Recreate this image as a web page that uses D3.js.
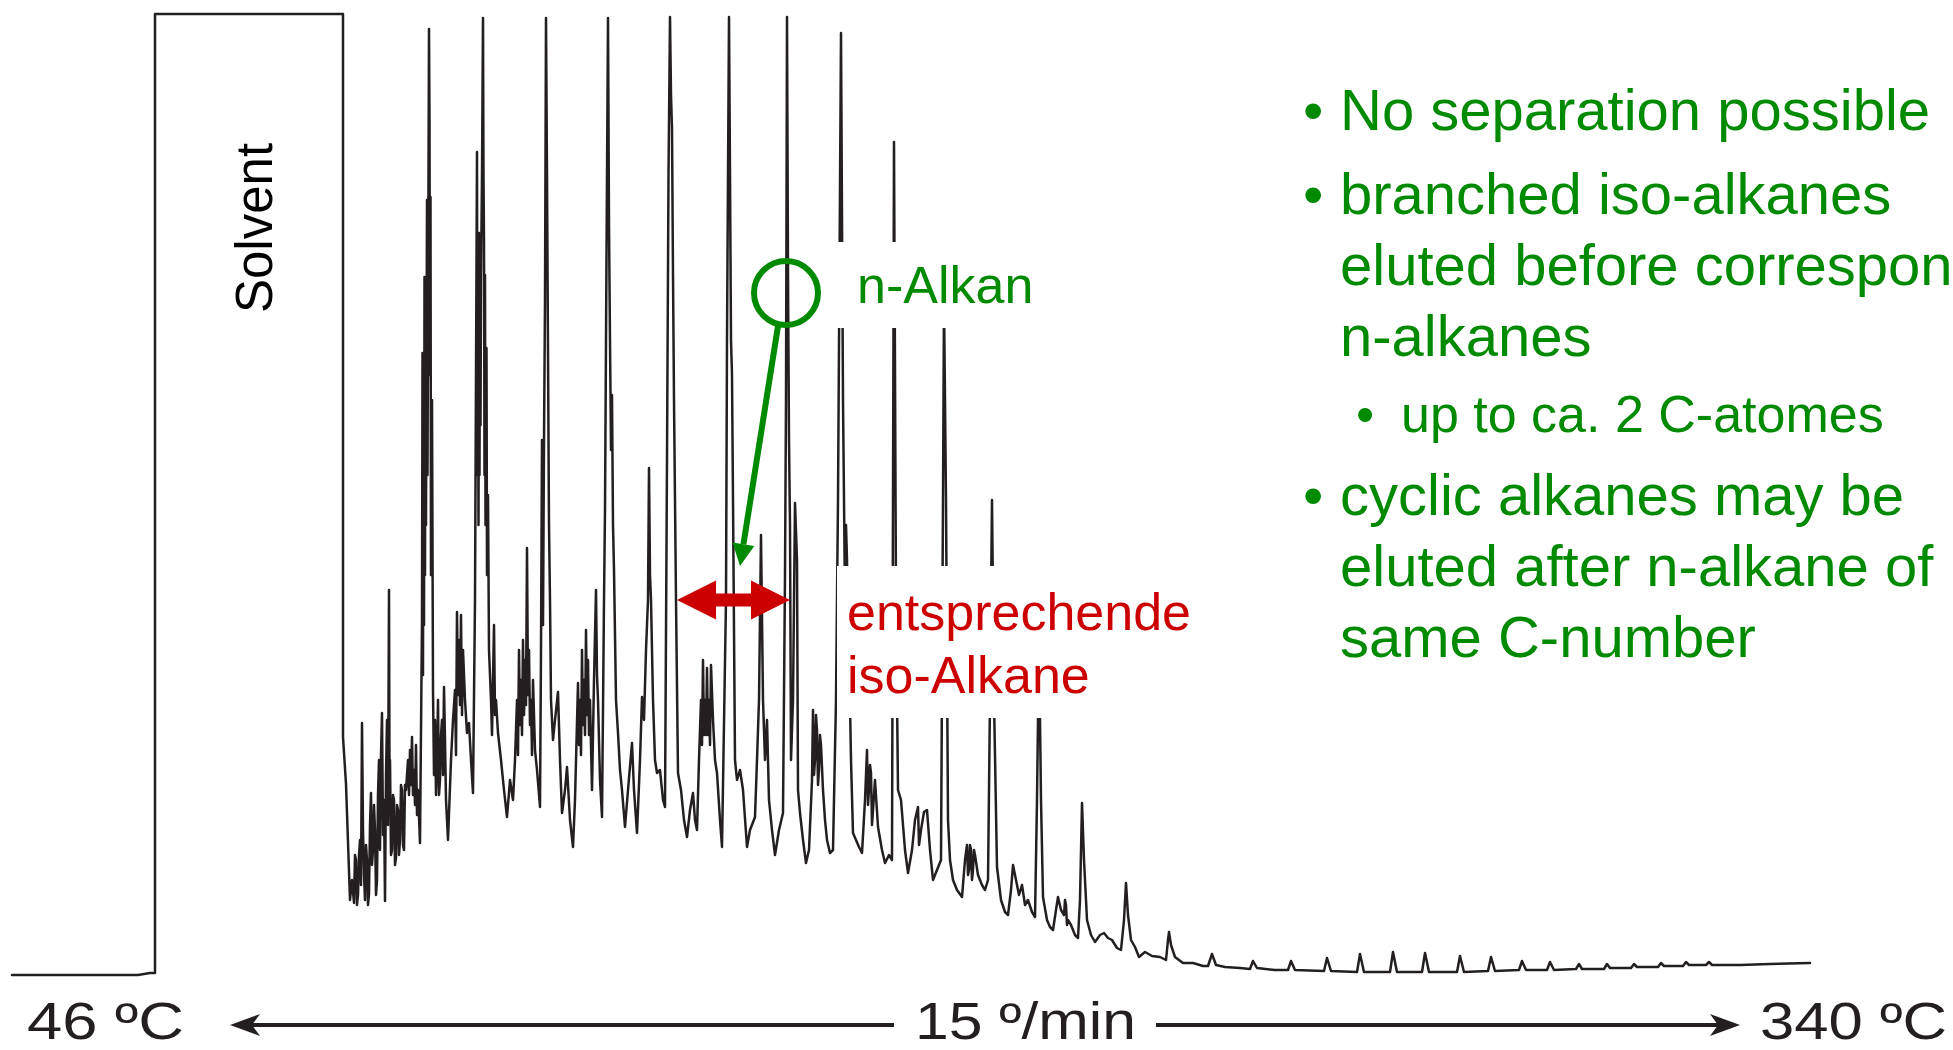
<!DOCTYPE html>
<html><head><meta charset="utf-8">
<script src="https://cdn.jsdelivr.net/npm/d3@7"></script>
<style>
body{margin:0;background:#fff}
svg{display:block}
text{font-family:"Liberation Sans",Arial,Helvetica,sans-serif}
</style>
</head><body>
<svg id="chart" width="1953" height="1050"></svg>
<script>
// ---- data: retention time (min) , detector signal (mV) ----
const solventTrace = [
 [0.00,0.0],[1.26,0.0],[1.38,0.2],[1.43,0.2],[1.43,96.1],[3.31,96.1],[3.31,23.8],[3.34,19.1],[3.38,7.5]
];
const earlyTrace = [
 [3.40,9.5],[3.42,7.2],[3.43,12],[3.44,11.5],[3.45,7],[3.46,8.0],[3.47,12],[3.48,13.5],[3.49,9],[3.50,25.2],[3.51,14.5],[3.52,10],[3.53,7.5],[3.54,13],[3.55,11.5],[3.56,7],[3.57,8.1],
 [3.58,15],[3.59,18.2],[3.60,11],[3.61,12.5],[3.62,17],[3.63,14.5],[3.64,8],[3.65,9.5],[3.66,18],[3.67,21.5],[3.675,13],[3.68,12.5],[3.69,22],[3.70,26.2],[3.71,14],[3.72,17.5],[3.73,7.4],[3.74,20],[3.75,25.5],
 [3.76,15],[3.77,38.5],[3.775,20],[3.78,21.5],[3.79,12],[3.80,12.5],[3.81,18],[3.82,17.5],[3.83,11],[3.84,11.8],[3.85,17],[3.86,16.5],[3.87,12],[3.88,13.5],[3.89,19],[3.90,18.5],[3.91,13],[3.92,12.5],[3.93,19],[3.94,18.5],
 [3.96,21.5],[3.97,18],[3.98,22.5],[3.99,19],[4.00,23.8],[4.01,18],[4.02,20.5],[4.03,17],[4.04,23.0],[4.05,16],[4.06,18.5],[4.08,13.2],
 [4.10,35.5],[4.105,62.2],[4.11,30],[4.115,62],[4.12,35],[4.125,69.8],[4.13,40],[4.135,69],[4.14,45],[4.15,77.5],[4.155,50],[4.165,80],[4.17,94.6],[4.175,85.5],[4.18,60],[4.185,77.8],[4.19,40],[4.20,57.5],
 [4.21,28.5],[4.22,20],[4.23,25.5],[4.24,18],[4.25,21.5],[4.26,27.5],[4.27,18],[4.28,19.5],[4.29,24],[4.30,25.5],[4.31,20],[4.32,28.8],[4.33,23.5],[4.34,17.5],[4.36,13.5],
 [4.39,21.5],[4.41,25.5],[4.43,28.5],[4.44,22],[4.45,36.3],[4.46,28],[4.47,33.5],[4.48,27],[4.49,36.0],[4.50,26],[4.51,32.5],[4.53,27.5],[4.55,24.2],[4.57,25.2],
 [4.59,21.5],[4.61,18.2],
 [4.63,37.5],[4.65,82.3],[4.655,50],[4.66,67.5],[4.665,45],[4.67,74.2],[4.675,50],[4.68,72],[4.685,55],[4.69,69.5],[4.70,80],[4.71,95.7],[4.715,80],[4.72,73.5],[4.725,50],[4.73,70],[4.735,45],[4.745,62.7],[4.75,40],[4.76,48.0],[4.77,32.5],
 [4.79,27.5],[4.80,24],[4.81,29.5],[4.82,35.0],[4.83,26],[4.84,27.5],[4.86,24.2],[4.89,21.5],[4.92,18.5],[4.95,15.8],[4.98,19.5],[5.01,17.5],
 [5.03,21.5],[5.05,27.5],[5.06,22],[5.07,32.5],[5.08,25],[5.09,29.5],[5.10,24],[5.11,33.5],[5.12,26],[5.13,31.5],[5.14,27],[5.15,42.7],[5.16,28],[5.17,32.5],[5.18,25],[5.19,27.5],[5.20,22],[5.21,29.5],
 [5.23,22.5],[5.25,20.5],[5.28,16.8],
 [5.29,32.5],[5.30,53.5],[5.31,35],[5.32,53.5],[5.33,67.5],[5.34,95.7],[5.35,80],[5.36,62.3],[5.37,45],[5.38,37.5],[5.39,27.5],[5.41,23.5],[5.43,25.5],[5.46,28.3],
 [5.48,21.5],[5.50,16.2],[5.53,18.5],[5.55,20.8],[5.58,15.5],[5.61,12.8],[5.63,17.5],[5.66,29.2],[5.67,23],[5.68,27.5],[5.69,22],[5.70,32.5],[5.71,25],
 [5.72,29.5],[5.73,24],[5.74,34.5],[5.75,26],[5.76,31.5],[5.77,24],[5.78,27.5],[5.80,18.5],[5.82,29.5],[5.84,38.5],[5.85,30],[5.86,27.5],[5.88,19.5],[5.90,15.8]
];
const midTrace = [
 [5.92,37.5],[5.93,46.5],[5.94,63.5],[5.95,80],[5.96,95.7],[5.97,75],[5.98,63.5],[5.99,52.5],[6.00,58],[6.01,45],[6.02,40.5],[6.04,27.5],[6.06,24.2],[6.08,20.5],[6.10,18.5],
 [6.13,14.8],[6.16,18.5],[6.20,23.2],[6.22,18.5],[6.25,14.2],[6.28,21.5],[6.30,27.8],[6.32,25.5],[6.34,32.5],[6.36,37.5],
 [6.37,50.7],[6.38,40],[6.39,37.5],[6.41,27.5],[6.43,21.5],[6.45,20.2],[6.48,20.5],[6.51,17.5],[6.53,16.8],
 [6.55,51.5],[6.565,80],[6.58,95.8],[6.59,88],[6.60,84.7],[6.61,70],[6.62,57.5],[6.64,37.5],[6.66,20.2],[6.69,18.5],[6.72,15.5],[6.75,13.8],[6.78,16.5],
 [6.81,18.2],[6.83,15.5],[6.85,14.5],[6.87,21.5],[6.89,27.5],[6.90,23],[6.91,31.5],[6.92,24],[6.93,27.5],[6.94,24],[6.95,30.7],[6.96,24],[6.97,27.5],[6.98,23],[6.99,31.0],
 [7.01,25.5],[7.03,21.5],[7.05,20.2],[7.08,15.5],[7.10,12.8],
 [7.14,37.5],[7.15,63.5],[7.16,80],[7.17,95.8],[7.18,80],[7.19,63.5],[7.20,60],[7.21,47.5],[7.23,21.5],[7.25,19.5],[7.28,20.5],[7.31,18.5],[7.35,12.8],
 [7.38,14.5],[7.43,15.8],[7.45,21.5],[7.47,27.5],[7.49,44.0],[7.51,27.5],[7.53,21.5],[7.55,25.5],[7.57,17.5],[7.60,14.5],
 [7.63,12.0],[7.67,14.5],[7.71,16.2],
 [7.73,40],[7.74,57.5],[7.75,95.8],[7.76,70],[7.77,53.5],[7.78,45],[7.79,21.5],[7.81,27.5],[7.83,47.2],[7.85,41.5],[7.86,18.5],[7.88,16.2],[7.91,13.5],
 [7.94,11.2],[7.97,12.5],[8.00,19.5],[8.01,26.5],[8.02,20],[8.03,21.5],[8.04,26],[8.05,24.5],[8.06,19],[8.07,20.5],[8.08,24],[8.09,23.0],[8.11,18.5],[8.13,15.5],
 [8.15,13.5],[8.18,12.2],[8.21,12.5],
 [8.24,27.5],[8.26,47.5],[8.29,94.2],[8.31,57.5],[8.33,37.5],[8.34,45],[8.35,41.5],[8.36,35],[8.37,32.5],[8.39,21.5],[8.41,14.2],[8.44,13.5],
 [8.47,12.8],[8.50,12.2],[8.53,17.5],[8.55,22.5],[8.56,17],[8.57,18.5],[8.58,21],[8.59,20.2],[8.60,15],[8.61,16.5],[8.63,19.5],[8.66,14.8],[8.70,12.5],
 [8.73,11.2],[8.77,12.0],[8.80,11.5],
 [8.82,83.3],[8.84,37.5],[8.86,18.5],[8.89,17.5],[8.93,12.5],[8.96,10.2],[9.00,12.5],[9.03,15.5],[9.06,16.8],[9.07,13],[9.09,14.5],
 [9.12,16.3],[9.15,16.5],[9.18,12.5],[9.21,9.5],[9.25,10.5],[9.29,11.5],
 [9.31,47.5],[9.32,67.5],[9.34,47.5],[9.36,15.5],[9.38,11.5],[9.41,9.5],[9.45,8.5],[9.50,7.8],[9.53,11.5],[9.55,13.0],
 [9.56,10],[9.57,10.5],[9.58,13],[9.59,12.5],[9.60,9.5],[9.61,10.5],[9.62,12.5],[9.63,12.0],[9.66,10.0],[9.70,9.0],[9.73,8.5],[9.76,9.5]
];
const lateTrace = [
 [9.78,27.5],[9.80,47.5],[9.82,27.5],[9.85,10.8],[9.89,7.5],[9.93,6.3],[9.96,6.0],[9.99,8.5],[10.01,11.0],[10.04,9.5],
 [10.07,8.0],[10.10,9.0],[10.13,7.0],[10.16,7.5],[10.20,6.3],[10.23,5.8],
 [10.25,17.5],[10.27,33.5],[10.29,17.5],[10.31,7.8],[10.35,5.5],[10.38,4.8],[10.41,4.5],[10.44,6.5],[10.46,7.8],[10.49,6.5],
 [10.52,6.0],[10.53,7.5],[10.54,7.0],[10.55,5],[10.56,5.5],[10.59,5.0],[10.63,4.0],[10.66,3.7],
 [10.68,7.5],[10.70,17.2],[10.72,11.5],[10.75,5.5],[10.79,4.0],[10.83,3.3],[10.88,4.0],[10.92,4.2],[10.96,3.7],[11.00,3.5],
 [11.05,2.7],[11.09,2.5],
 [11.12,5.5],[11.14,9.2],[11.16,6.0],[11.19,3.5],[11.23,2.8],[11.27,1.8],[11.33,2.3],[11.40,1.9],[11.48,1.8],[11.54,1.5],
 [11.56,3.5],[11.57,4.3],[11.59,3.0],[11.63,1.8],[11.71,1.2],[11.81,1.2],[11.91,0.9],[11.96,0.9],
 [12.00,2.1],[12.04,1.0],[12.13,0.8],[12.28,0.7],[12.38,0.6],[12.41,1.4],[12.45,0.7],[12.63,0.5],[12.76,0.5],[12.79,1.4],
 [12.83,0.5],[13.12,0.4],[13.15,1.7],[13.19,0.4],[13.45,0.3],[13.48,2.1],[13.52,0.3],[13.78,0.3],[13.81,2.3],[13.85,0.3],
 [14.10,0.3],[14.13,2.2],[14.17,0.3],[14.45,0.3],[14.48,1.9],[14.52,0.3],[14.76,0.4],[14.79,1.8],[14.83,0.4],[15.07,0.5],
 [15.10,1.4],[15.14,0.5],[15.35,0.5],[15.38,1.3],[15.42,0.5],[15.64,0.6],[15.67,1.1],[15.70,0.6],[15.92,0.6],[15.95,1.1],
 [15.98,0.7],[16.19,0.7],[16.22,1.1],[16.25,0.8],[16.46,0.8],[16.49,1.2],[16.52,0.9],[16.71,0.9],[16.74,1.3],[16.77,1.0],
 [16.94,1.0],[16.97,1.3],[17.00,1.0],[17.28,1.0],[17.58,1.1],[17.98,1.2]
];
const solventLabel = "Solvent";
const tempLabels = ["46 ºC", "15 º/min", "340 ºC"];
const alkaneLabel = "n-Alkan";
const isoLabels = ["entsprechende", "iso-Alkane"];
const notes = [
  {level: 0, lines: ["No separation possible"]},
  {level: 0, lines: ["branched iso-alkanes", "eluted before correspon", "n-alkanes"]},
  {level: 1, lines: ["up to ca. 2 C-atomes"]},
  {level: 0, lines: ["cyclic alkanes may be", "eluted after n-alkane of", "same C-number"]}
];

// ---- drawing ----
const svg = d3.select("#chart");
svg.append("rect").attr("width", 1953).attr("height", 1050).attr("fill", "#fff");
const x = d3.scaleLinear().domain([0, 18]).range([12, 1812]);
const y = d3.scaleLinear().domain([0, 96]).range([975, 15]);
const INK = "#231f20", GREEN = "#008a00", RED = "#cc0000";

const trace = solventTrace.concat(earlyTrace, midTrace, lateTrace);
const line = d3.line().x(d => x(d[0])).y(d => y(d[1]));
svg.append("path").datum(trace).attr("d", line)
  .attr("fill", "none").attr("stroke", INK).attr("stroke-width", 2.5)
  .attr("stroke-linejoin", "round").attr("stroke-linecap", "round");

// Solvent label (rotated)
svg.append("text").attr("transform", "translate(272,228) rotate(-90)")
  .attr("text-anchor", "middle").attr("font-size", 51).attr("fill", "#000").text(solventLabel);

// white label boxes masking the peaks
svg.append("rect").attr("x", 836).attr("y", 242).attr("width", 210).attr("height", 86).attr("fill", "#fff");
svg.append("rect").attr("x", 837).attr("y", 566).attr("width", 365).attr("height", 152).attr("fill", "#fff");

// n-Alkan annotation
svg.append("text").attr("x", 857).attr("y", 303).attr("font-size", 52).attr("fill", GREEN).text(alkaneLabel);
svg.append("circle").attr("cx", 786).attr("cy", 293).attr("r", 32)
  .attr("fill", "none").attr("stroke", GREEN).attr("stroke-width", 6);
(function(){
  const x0 = 778, y0 = 326, x1 = 740, y1 = 566;
  const ang = Math.atan2(y1 - y0, x1 - x0);
  const hl = 22, hw = 11;
  const bx = x1 - hl * Math.cos(ang), by = y1 - hl * Math.sin(ang);
  svg.append("line").attr("x1", x0).attr("y1", y0).attr("x2", bx).attr("y2", by)
    .attr("stroke", GREEN).attr("stroke-width", 6);
  const px = -Math.sin(ang), py = Math.cos(ang);
  svg.append("path").attr("d", `M${x1},${y1}L${bx + px*hw},${by + py*hw}L${bx - px*hw},${by - py*hw}Z`).attr("fill", GREEN);
})();

// red double arrow
(function(){
  const xl = 677, xr = 790, yc = 600, hl = 39, hh = 19.5, sh = 6.5;
  svg.append("path").attr("d",
    `M${xl},${yc}L${xl+hl},${yc-hh}L${xl+hl},${yc-sh}L${xr-hl},${yc-sh}L${xr-hl},${yc-hh}L${xr},${yc}` +
    `L${xr-hl},${yc+hh}L${xr-hl},${yc+sh}L${xl+hl},${yc+sh}L${xl+hl},${yc+hh}Z`).attr("fill", RED);
})();
svg.selectAll("text.iso").data(isoLabels).enter().append("text").attr("class", "iso")
  .attr("x", 847).attr("y", (d, i) => 630 + i * 63).attr("font-size", 52).attr("fill", RED).text(d => d);

// temperature program
const tempPos = [{x: 27, len: 157}, {x: 915, len: 221}, {x: 1760, len: 187}];
svg.selectAll("text.temp").data(tempLabels).enter().append("text").attr("class", "temp")
  .attr("x", (d, i) => tempPos[i].x).attr("y", 1039).attr("font-size", 51).attr("fill", INK)
  .attr("textLength", (d, i) => tempPos[i].len).attr("lengthAdjust", "spacingAndGlyphs").text(d => d);
function headPath(tipX, yc, dir) {
  const L = 30, H = 11, notch = 8;
  return `M${tipX},${yc}L${tipX + dir*L},${yc - H}L${tipX + dir*(L - notch)},${yc}L${tipX + dir*L},${yc + H}Z`;
}
const ay = 1025;
svg.append("line").attr("x1", 250).attr("y1", ay).attr("x2", 894).attr("y2", ay).attr("stroke", INK).attr("stroke-width", 4);
svg.append("path").attr("d", headPath(230, ay, 1)).attr("fill", INK);
svg.append("line").attr("x1", 1156).attr("y1", ay).attr("x2", 1720).attr("y2", ay).attr("stroke", INK).attr("stroke-width", 4);
svg.append("path").attr("d", headPath(1740, ay, -1)).attr("fill", INK);

// bullet notes
const baselines = [130, 214, 285, 356, 432, 515, 586, 657];
let li = 0;
notes.forEach(n => {
  const fs = n.level === 0 ? 58 : 52;
  const bx = n.level === 0 ? 1303 : 1356;
  const tx = n.level === 0 ? 1340 : 1401;
  svg.append("text").attr("x", bx).attr("y", baselines[li]).attr("font-size", fs).attr("fill", GREEN).text("•");
  n.lines.forEach(t => {
    svg.append("text").attr("x", tx).attr("y", baselines[li]).attr("font-size", fs).attr("fill", GREEN).text(t);
    li++;
  });
});
</script>
</body></html>
